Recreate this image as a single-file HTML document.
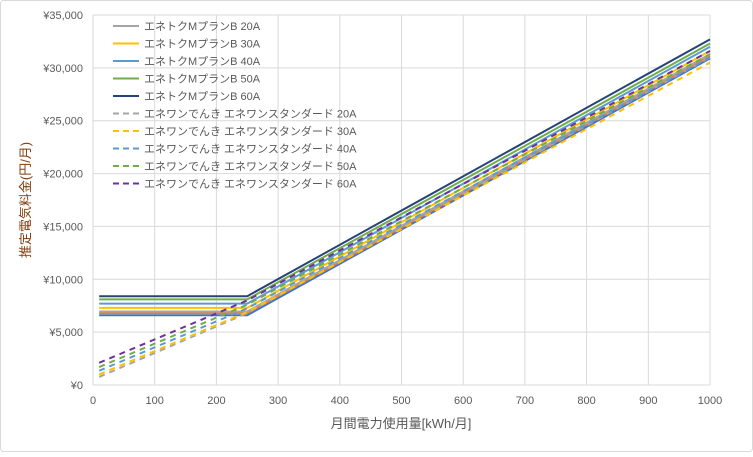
<!DOCTYPE html>
<html><head><meta charset="utf-8"><style>
body{margin:0;background:#fff}
svg text{font-family:"Liberation Sans","Noto Sans CJK JP",sans-serif;fill:#595959}
</style></head><body>
<svg width="753" height="452" id="c">
<rect x="0.5" y="0.5" width="752" height="451" rx="3" fill="#fff" stroke="#d9d9d9"/>
<g id="grid"></g><g id="series"></g><g id="legend"></g>
<text x="30" y="200" font-size="13" transform="rotate(-90 30 200)" text-anchor="middle" style="fill:#843c0c">推定電気料金(円/月)</text>
<text x="401" y="428" font-size="13" text-anchor="middle">月間電力使用量[kWh/月]</text>
</svg>
<script>
const xTicks=[0,100,200,300,400,500,600,700,800,900,1000];
const yTicks=[0,5000,10000,15000,20000,25000,30000,35000];
const usage=[10,250,1000];
const mNames=["エネトクMプランB 20A","エネトクMプランB 30A","エネトクMプランB 40A","エネトクMプランB 50A","エネトクMプランB 60A"];
const m20=[6950,6950,31300];
const m30=[7300,7300,31600];
const m40=[7700,7700,32000];
const m50=[8100,8100,32300];
const m60=[8400,8400,32700];
const eNames=["エネワンでんき エネワンスタンダード 20A","エネワンでんき エネワンスタンダード 30A","エネワンでんき エネワンスタンダード 40A","エネワンでんき エネワンスタンダード 50A","エネワンでんき エネワンスタンダード 60A"];
const e20=[760,6800,31000];
const e30=[1000,6900,30500];
const e40=[1350,7250,31000];
const e50=[1700,7600,31300];
const e60=[2100,8000,31600];
const extraA=[6800,6800,31100];
const extraB=[6600,6600,30900];
const colors=["#a5a5a5","#ffc000","#5b9bd5","#70ad47","#264478"];
const dcolors=["#a5a5a5","#ffc000","#5b9bd5","#70ad47","#7030a0"];
const L=93,R=710,T=15,B=385;
const X=v=>L+(v/1000)*(R-L), Y=v=>B-(v/35000)*(B-T);
const NS="http://www.w3.org/2000/svg";
function mk(tag,attrs,parent){const e=document.createElementNS(NS,tag);for(const k in attrs)e.setAttribute(k,attrs[k]);parent.appendChild(e);return e;}
const g=document.getElementById('grid');
xTicks.forEach(t=>{const l=mk('line',{x1:X(t),x2:X(t),y1:T,y2:B,stroke:'#d9d9d9'},g);


const tx=mk('text',{x:X(t),y:B+19,'font-size':11,'text-anchor':'middle'},g);tx.textContent=t;

});
yTicks.forEach(t=>{const l=mk('line',{x1:L,x2:R,y1:Y(t),y2:Y(t),stroke:'#d9d9d9'},g);


const tx=mk('text',{x:L-10,y:Y(t)+4,'font-size':11,'text-anchor':'end'},g);tx.textContent='¥'+t.toLocaleString('en-US');

});
const s=document.getElementById('series');
function line(vals,col,dash,name){const p=mk('polyline',{points:usage.map((u,i)=>X(u)+','+Y(vals[i])).join(' '),fill:'none',stroke:col,'stroke-width':2,'stroke-dasharray':dash?'6 5':'none'},s);

}
line(extraB,"#4472c4",false,"series-extra-b");
line(extraA,"#ed7d31",false,"series-extra-a");
[m20,m30,m40,m50,m60].forEach((v,i)=>line(v,colors[i],false,'series-m-'+(i*10+20)+'a'));
[e20,e30,e40,e50,e60].forEach((v,i)=>line(v,dcolors[i],true,'series-e-'+(i*10+20)+'a'));
const lg=document.getElementById('legend');
const names=mNames.concat(eNames);
names.forEach((n,i)=>{const y=26+i*17.5;const dash=i>=5;const col=dash?dcolors[i-5]:colors[i];
const gi=mk('g',{},lg);


mk('line',{x1:113,x2:139,y1:y,y2:y,stroke:col,'stroke-width':2,'stroke-dasharray':dash?'6 4':'none'},gi);
const t=mk('text',{x:144,y:y+4,'font-size':11},gi);t.textContent=n;});
</script>
</body></html>
